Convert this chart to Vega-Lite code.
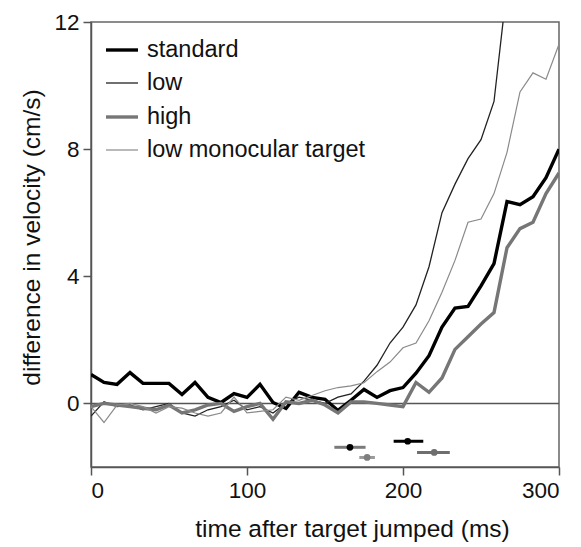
{
  "$schema": "https://vega.github.io/schema/vega-lite/v6.json",
  "width": 468,
  "height": 445,
  "autosize": "none",
  "padding": {"left": 91, "top": 22, "right": 22, "bottom": 80},
  "config": {
    "font": "Liberation Sans",
    "view": {"stroke": "#666", "strokeWidth": 1.5},
    "axis": {"domainColor": "#555", "tickColor": "#555", "domainWidth": 1.5, "tickWidth": 1.5, "labelFontSize": 22.5, "titleFontSize": 24.5, "labelColor": "#111", "titleColor": "#111", "titleFontWeight": "normal", "grid": false, "tickSize": 8}
  },
  "datasets": {
    "curves": [
      {"t": 0, "cond": "standard", "v": 0.91}, {"t": 8.33, "cond": "standard", "v": 0.66}, {"t": 16.67, "cond": "standard", "v": 0.6}, {"t": 25, "cond": "standard", "v": 0.97}, {"t": 33.33, "cond": "standard", "v": 0.63}, {"t": 41.67, "cond": "standard", "v": 0.63}, {"t": 50, "cond": "standard", "v": 0.63}, {"t": 58.33, "cond": "standard", "v": 0.28}, {"t": 66.67, "cond": "standard", "v": 0.66}, {"t": 75, "cond": "standard", "v": 0.19}, {"t": 83.33, "cond": "standard", "v": 0.03}, {"t": 91.67, "cond": "standard", "v": 0.31}, {"t": 100, "cond": "standard", "v": 0.19}, {"t": 108.33, "cond": "standard", "v": 0.6}, {"t": 116.67, "cond": "standard", "v": 0.03}, {"t": 125, "cond": "standard", "v": -0.16}, {"t": 133.33, "cond": "standard", "v": 0.35}, {"t": 141.67, "cond": "standard", "v": 0.19}, {"t": 150, "cond": "standard", "v": 0.13}, {"t": 158.33, "cond": "standard", "v": -0.22}, {"t": 166.67, "cond": "standard", "v": 0.1}, {"t": 175, "cond": "standard", "v": 0.44}, {"t": 183.33, "cond": "standard", "v": 0.19}, {"t": 191.67, "cond": "standard", "v": 0.4}, {"t": 200, "cond": "standard", "v": 0.5}, {"t": 208.33, "cond": "standard", "v": 0.95}, {"t": 216.67, "cond": "standard", "v": 1.5}, {"t": 225, "cond": "standard", "v": 2.4}, {"t": 233.33, "cond": "standard", "v": 3.0}, {"t": 241.67, "cond": "standard", "v": 3.05}, {"t": 250, "cond": "standard", "v": 3.7}, {"t": 258.33, "cond": "standard", "v": 4.4}, {"t": 266.67, "cond": "standard", "v": 6.35}, {"t": 275, "cond": "standard", "v": 6.25}, {"t": 283.33, "cond": "standard", "v": 6.5}, {"t": 291.67, "cond": "standard", "v": 7.1}, {"t": 300, "cond": "standard", "v": 8.0},
      {"t": 0, "cond": "low", "v": -0.4}, {"t": 8.33, "cond": "low", "v": 0.05}, {"t": 16.67, "cond": "low", "v": -0.1}, {"t": 25, "cond": "low", "v": -0.05}, {"t": 33.33, "cond": "low", "v": -0.2}, {"t": 41.67, "cond": "low", "v": -0.1}, {"t": 50, "cond": "low", "v": 0.0}, {"t": 58.33, "cond": "low", "v": -0.3}, {"t": 66.67, "cond": "low", "v": -0.4}, {"t": 75, "cond": "low", "v": -0.2}, {"t": 83.33, "cond": "low", "v": -0.1}, {"t": 91.67, "cond": "low", "v": 0.1}, {"t": 100, "cond": "low", "v": -0.2}, {"t": 108.33, "cond": "low", "v": -0.1}, {"t": 116.67, "cond": "low", "v": -0.3}, {"t": 125, "cond": "low", "v": 0.0}, {"t": 133.33, "cond": "low", "v": 0.2}, {"t": 141.67, "cond": "low", "v": 0.1}, {"t": 150, "cond": "low", "v": 0.0}, {"t": 158.33, "cond": "low", "v": 0.2}, {"t": 166.67, "cond": "low", "v": 0.3}, {"t": 175, "cond": "low", "v": 0.7}, {"t": 183.33, "cond": "low", "v": 1.2}, {"t": 191.67, "cond": "low", "v": 1.9}, {"t": 200, "cond": "low", "v": 2.4}, {"t": 208.33, "cond": "low", "v": 3.1}, {"t": 216.67, "cond": "low", "v": 4.3}, {"t": 225, "cond": "low", "v": 6.0}, {"t": 233.33, "cond": "low", "v": 6.9}, {"t": 241.67, "cond": "low", "v": 7.7}, {"t": 250, "cond": "low", "v": 8.3}, {"t": 258.33, "cond": "low", "v": 9.5}, {"t": 266.67, "cond": "low", "v": 13.1}, {"t": 275, "cond": "low", "v": 15}, {"t": 283.33, "cond": "low", "v": 17}, {"t": 291.67, "cond": "low", "v": 19}, {"t": 300, "cond": "low", "v": 21},
      {"t": 0, "cond": "high", "v": -0.1}, {"t": 8.33, "cond": "high", "v": 0.0}, {"t": 16.67, "cond": "high", "v": -0.05}, {"t": 25, "cond": "high", "v": -0.1}, {"t": 33.33, "cond": "high", "v": -0.15}, {"t": 41.67, "cond": "high", "v": -0.2}, {"t": 50, "cond": "high", "v": -0.05}, {"t": 58.33, "cond": "high", "v": -0.3}, {"t": 66.67, "cond": "high", "v": -0.2}, {"t": 75, "cond": "high", "v": -0.05}, {"t": 83.33, "cond": "high", "v": 0.0}, {"t": 91.67, "cond": "high", "v": -0.25}, {"t": 100, "cond": "high", "v": -0.1}, {"t": 108.33, "cond": "high", "v": 0.0}, {"t": 116.67, "cond": "high", "v": -0.5}, {"t": 125, "cond": "high", "v": 0.05}, {"t": 133.33, "cond": "high", "v": 0.0}, {"t": 141.67, "cond": "high", "v": 0.1}, {"t": 150, "cond": "high", "v": -0.05}, {"t": 158.33, "cond": "high", "v": -0.3}, {"t": 166.67, "cond": "high", "v": 0.05}, {"t": 175, "cond": "high", "v": 0.05}, {"t": 183.33, "cond": "high", "v": 0.0}, {"t": 191.67, "cond": "high", "v": -0.05}, {"t": 200, "cond": "high", "v": -0.1}, {"t": 208.33, "cond": "high", "v": 0.66}, {"t": 216.67, "cond": "high", "v": 0.35}, {"t": 225, "cond": "high", "v": 0.8}, {"t": 233.33, "cond": "high", "v": 1.7}, {"t": 241.67, "cond": "high", "v": 2.1}, {"t": 250, "cond": "high", "v": 2.5}, {"t": 258.33, "cond": "high", "v": 2.86}, {"t": 266.67, "cond": "high", "v": 4.9}, {"t": 275, "cond": "high", "v": 5.5}, {"t": 283.33, "cond": "high", "v": 5.7}, {"t": 291.67, "cond": "high", "v": 6.6}, {"t": 300, "cond": "high", "v": 7.25},
      {"t": 0, "cond": "low monocular target", "v": -0.1}, {"t": 8.33, "cond": "low monocular target", "v": -0.6}, {"t": 16.67, "cond": "low monocular target", "v": -0.05}, {"t": 25, "cond": "low monocular target", "v": 0.0}, {"t": 33.33, "cond": "low monocular target", "v": -0.1}, {"t": 41.67, "cond": "low monocular target", "v": -0.3}, {"t": 50, "cond": "low monocular target", "v": -0.1}, {"t": 58.33, "cond": "low monocular target", "v": -0.15}, {"t": 66.67, "cond": "low monocular target", "v": -0.3}, {"t": 75, "cond": "low monocular target", "v": -0.4}, {"t": 83.33, "cond": "low monocular target", "v": -0.3}, {"t": 91.67, "cond": "low monocular target", "v": 0.2}, {"t": 100, "cond": "low monocular target", "v": -0.3}, {"t": 108.33, "cond": "low monocular target", "v": -0.25}, {"t": 116.67, "cond": "low monocular target", "v": -0.2}, {"t": 125, "cond": "low monocular target", "v": 0.2}, {"t": 133.33, "cond": "low monocular target", "v": 0.1}, {"t": 141.67, "cond": "low monocular target", "v": 0.25}, {"t": 150, "cond": "low monocular target", "v": 0.4}, {"t": 158.33, "cond": "low monocular target", "v": 0.5}, {"t": 166.67, "cond": "low monocular target", "v": 0.55}, {"t": 175, "cond": "low monocular target", "v": 0.65}, {"t": 183.33, "cond": "low monocular target", "v": 1.0}, {"t": 191.67, "cond": "low monocular target", "v": 1.3}, {"t": 200, "cond": "low monocular target", "v": 1.75}, {"t": 208.33, "cond": "low monocular target", "v": 1.9}, {"t": 216.67, "cond": "low monocular target", "v": 2.6}, {"t": 225, "cond": "low monocular target", "v": 3.5}, {"t": 233.33, "cond": "low monocular target", "v": 4.5}, {"t": 241.67, "cond": "low monocular target", "v": 5.7}, {"t": 250, "cond": "low monocular target", "v": 5.8}, {"t": 258.33, "cond": "low monocular target", "v": 6.6}, {"t": 266.67, "cond": "low monocular target", "v": 7.9}, {"t": 275, "cond": "low monocular target", "v": 9.8}, {"t": 283.33, "cond": "low monocular target", "v": 10.4}, {"t": 291.67, "cond": "low monocular target", "v": 10.2}, {"t": 300, "cond": "low monocular target", "v": 11.3}
    ],
    "latency": [
      {"cond": "low", "t": 166, "lo": 156, "hi": 176, "y": -1.38},
      {"cond": "low monocular target", "t": 177, "lo": 172, "hi": 182, "y": -1.7},
      {"cond": "standard", "t": 203, "lo": 194, "hi": 213, "y": -1.19},
      {"cond": "high", "t": 220, "lo": 209, "hi": 230, "y": -1.54}
    ],
    "zero": [{"y": 0}]
  },
  "layer": [
    {
      "data": {"name": "zero"},
      "mark": {"type": "rule", "color": "#555", "strokeWidth": 1.5},
      "encoding": {"y": {"field": "y", "type": "quantitative", "scale": {"domain": [-2, 12]}}}
    },
    {
      "data": {"name": "curves"},
      "mark": {"type": "line", "clip": true},
      "encoding": {
        "x": {"field": "t", "type": "quantitative", "scale": {"domain": [0, 300], "nice": false}, "axis": {"values": [0, 100, 200, 300], "title": "time after target jumped (ms)", "labelPadding": 4, "titlePadding": 16, "titleX": 261, "titleAlign": "center"}},
        "y": {"field": "v", "type": "quantitative", "scale": {"domain": [-2, 12], "nice": false}, "axis": {"values": [0, 4, 8, 12], "title": "difference in velocity (cm/s)", "labelPadding": 4, "titlePadding": 9, "titleY": 215, "titleAlign": "center"}},
        "color": {"field": "cond", "type": "nominal", "title": null,
          "scale": {"domain": ["standard", "low", "high", "low monocular target"], "range": ["#000000", "#222222", "#767676", "#8a8a8a"]},
          "legend": {"orient": "none", "legendX": 13, "legendY": 10, "symbolType": "stroke", "symbolSize": 1024, "labelFontSize": 23.5, "labelColor": "#111", "labelOffset": 7, "labelLimit": 0, "rowPadding": 4,
            "encode": {"symbols": {"update": {"strokeWidth": {"scale": "strokeWidth", "field": "value"}}}}}},
        "strokeWidth": {"field": "cond", "type": "nominal", "legend": null,
          "scale": {"type": "ordinal", "domain": ["standard", "low", "high", "low monocular target"], "range": [3.4, 1.3, 3.4, 1.2]}},
        "order": {"field": "t", "type": "quantitative"}
      }
    },
    {
      "data": {"name": "latency"},
      "mark": {"type": "rule", "strokeWidth": 3},
      "encoding": {
        "x": {"field": "lo", "type": "quantitative"},
        "x2": {"field": "hi"},
        "y": {"field": "y", "type": "quantitative"},
        "stroke": {"field": "cond", "type": "nominal", "legend": null,
          "scale": {"domain": ["standard", "low", "high", "low monocular target"], "range": ["#000000", "#7a7a7a", "#6e6e6e", "#9a9a9a"]}}
      }
    },
    {
      "data": {"name": "latency"},
      "mark": {"type": "point", "filled": true, "size": 45, "opacity": 1},
      "encoding": {
        "x": {"field": "t", "type": "quantitative"},
        "y": {"field": "y", "type": "quantitative"},
        "fill": {"field": "cond", "type": "nominal", "legend": null,
          "scale": {"domain": ["standard", "low", "high", "low monocular target"], "range": ["#000000", "#000000", "#6e6e6e", "#7e7e7e"]}}
      }
    }
  ]
}
